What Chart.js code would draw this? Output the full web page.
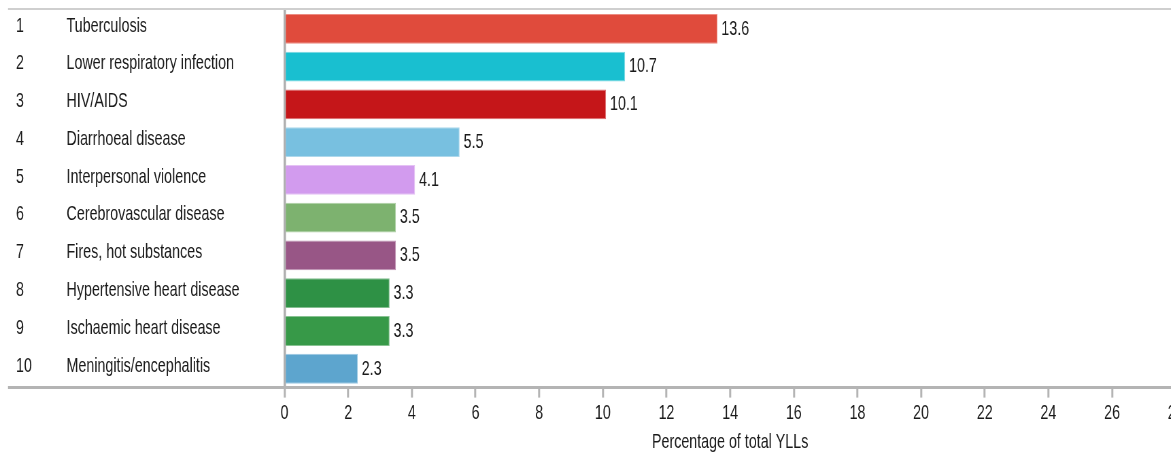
<!DOCTYPE html>
<html>
<head>
<meta charset="utf-8">
<script src="https://cdn.jsdelivr.net/npm/chart.js@4.4.1/dist/chart.umd.min.js"></script>
<style>
  html, body { margin: 0; padding: 0; background: #ffffff; overflow: hidden; width: 1171px; height: 457px; }
  #wrap { position: absolute; left: 0; top: 0; width: 1760px; height: 457px; transform: scaleX(0.68); transform-origin: 0 0; }
</style>
</head>
<body>
<div id="wrap"><canvas id="c"></canvas></div>
<script>
// ---- data ----
const ranks = ['1', '2', '3', '4', '5', '6', '7', '8', '9', '10'];
const categories = [
  'Tuberculosis',
  'Lower respiratory infection',
  'HIV/AIDS',
  'Diarrhoeal disease',
  'Interpersonal violence',
  'Cerebrovascular disease',
  'Fires, hot substances',
  'Hypertensive heart disease',
  'Ischaemic heart disease',
  'Meningitis/encephalitis'
];
const values = [13.6, 10.7, 10.1, 5.5, 4.1, 3.5, 3.5, 3.3, 3.3, 2.3];
const xTickValues = [0, 2, 4, 6, 8, 10, 12, 14, 16, 18, 20, 22, 24, 26, 28];
const axisTitle = 'Percentage of total YLLs';

// ---- styles ----
const barColors = ['#E04B3C', '#19BFD0', '#C51619', '#78C0E0', '#D29BEE', '#7DB26F', '#985686', '#2E9145', '#379948', '#5DA5CE'];
const barBorders = ['#EC8C82', '#7AD8E2', '#DC6E70', '#ADD8EC', '#E4C2F4', '#AED0A5', '#C094B4', '#84BE90', '#88C292', '#9CC8E2'];
const SX = 0.68;               // horizontal squeeze of the picture
const FONT = 'Liberation Sans, Arial, sans-serif';

const decor = {
  id: 'decor',
  afterDatasetsDraw(chart) {
    const ctx = chart.ctx;
    const area = chart.chartArea;
    const xs = chart.scales.x;
    const ys = chart.scales.y;
    ctx.save();
    // top rule
    ctx.strokeStyle = '#cfcfcf';
    ctx.lineWidth = 2;
    ctx.beginPath();
    ctx.moveTo(8 / SX, area.top - 1);
    ctx.lineTo(chart.width, area.top - 1);
    ctx.stroke();
    // bottom rule
    ctx.strokeStyle = '#b4b4b4';
    ctx.lineWidth = 3;
    ctx.beginPath();
    ctx.moveTo(8 / SX, area.bottom);
    ctx.lineTo(chart.width, area.bottom);
    ctx.stroke();
    // left labels
    ctx.font = '21px ' + FONT;
    ctx.fillStyle = '#1a1a1a';
    ctx.textBaseline = 'middle';
    ctx.textAlign = 'left';
    categories.forEach((name, i) => {
      const y = ys.getPixelForValue(i) - 3;
      ctx.fillText(ranks[i], 16 / SX, y);
      ctx.fillText(name, 66.5 / SX, y);
    });
    // value labels
    values.forEach((v, i) => {
      const y = ys.getPixelForValue(i);
      ctx.fillText(v.toFixed(1), xs.getPixelForValue(v) + 4 / SX, y);
    });
    ctx.restore();
  }
};

new Chart(document.getElementById('c'), {
  type: 'bar',
  data: {
    labels: categories,
    datasets: [{
      data: values,
      backgroundColor: barColors,
      borderColor: barBorders,
      borderWidth: 1,
      barPercentage: 0.79,
      categoryPercentage: 1.0
    }]
  },
  options: {
    indexAxis: 'y',
    responsive: true,
    maintainAspectRatio: false,
    animation: false,
    devicePixelRatio: 1,
    layout: { padding: { left: 284.5 / SX, right: 31, top: 10, bottom: 0 } },
    plugins: {
      legend: { display: false },
      tooltip: { enabled: false }
    },
    scales: {
      y: {
        type: 'category',
        display: false,
        offset: true
      },
      x: {
        type: 'linear',
        min: 0,
        max: 28,
        afterBuildTicks(scale) { scale.ticks = xTickValues.map(v => ({ value: v })); },
        border: { display: false },
        grid: {
          drawOnChartArea: true,
          color: (c) => (c.tick && c.tick.value === 0) ? '#b0b0b0' : 'rgba(0,0,0,0)',
          lineWidth: 3.6,
          tickColor: '#b4b4b4',
          tickWidth: 3,
          tickLength: 10
        },
        ticks: {
          autoSkip: false,
          maxRotation: 0,
          padding: 3,
          color: '#1a1a1a',
          font: { family: FONT, size: 21, lineHeight: 1.2 }
        },
        title: {
          display: true,
          text: axisTitle,
          color: '#1a1a1a',
          font: { family: FONT, size: 21, lineHeight: 1.2 },
          padding: { top: 1, bottom: 2 }
        }
      }
    }
  },
  plugins: [decor]
});
</script>
</body>
</html>
